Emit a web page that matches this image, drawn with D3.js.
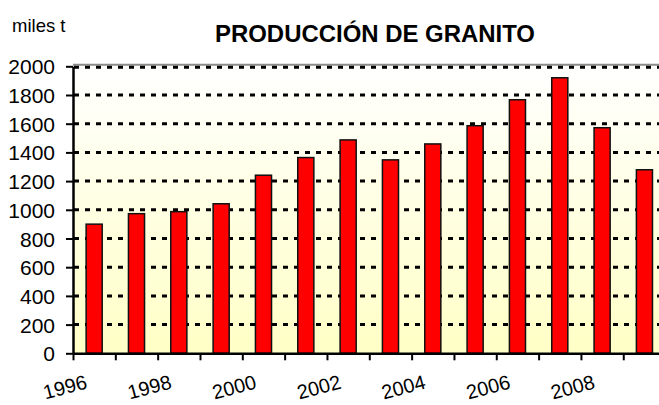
<!DOCTYPE html>
<html>
<head>
<meta charset="utf-8">
<script src="https://cdn.jsdelivr.net/npm/d3@7"></script>
<style>
  body { margin: 0; background: #fff; }
  text { font-family: "Liberation Sans", Arial, sans-serif; }
</style>
</head>
<body>
<div id="chart"></div>
<script>
const years = ["1996", "1997", "1998", "1999", "2000", "2001", "2002", "2003", "2004", "2005", "2006", "2007", "2008", "2009"];
const production = [900, 973, 987, 1042, 1241, 1364, 1487, 1348, 1459, 1586, 1767, 1920, 1572, 1279];
const yTicks = [0, 200, 400, 600, 800, 1000, 1200, 1400, 1600, 1800, 2000];
const xLabels = ["1996", "1998", "2000", "2002", "2004", "2006", "2008"];

const width = 659, height = 405;
const plotLeft = 73, plotRight = 665.6, plotTop = 66.3, plotBottom = 353.3;

var svg = d3.select("#chart")
    .append("svg")
    .attr("width", width)
    .attr("height", height);

var grad = svg.append("defs").append("linearGradient")
    .attr("id", "bg")
    .attr("x1", 0).attr("y1", 0).attr("x2", 0).attr("y2", 1);
grad.append("stop").attr("offset", "0%").attr("stop-color", "#ffffff");
grad.append("stop").attr("offset", "100%").attr("stop-color", "#ffffc6");

var x = d3.scaleBand()
    .domain(years)
    .range([plotLeft, plotRight])
    .paddingInner(0.62)
    .paddingOuter(0.31);

var xEdges = d3.scaleLinear()
    .domain([0, years.length])
    .range([plotLeft, plotRight]);

var y = d3.scaleLinear()
    .domain([0, 2000])
    .range([plotBottom, plotTop]);

// plot area background
svg.append("rect")
    .attr("x", plotLeft)
    .attr("y", y(2000) - 1)
    .attr("width", plotRight - plotLeft)
    .attr("height", plotBottom - y(2000) + 1)
    .style("fill", "url(#bg)");

// top border
svg.append("line")
    .attr("x1", plotLeft).attr("x2", plotRight)
    .attr("y1", y(2000) - 1.5).attr("y2", y(2000) - 1.5)
    .style("stroke", "#8c8c8c")
    .style("stroke-width", 2);

// dashed gridlines
svg.append("g")
    .selectAll("line")
    .data(yTicks.filter(d => d > 0))
    .enter()
    .append("line")
    .attr("x1", plotLeft + 1)
    .attr("x2", plotRight)
    .attr("y1", d => y(d) + (d == 2000 ? 1 : 0))
    .attr("y2", d => y(d) + (d == 2000 ? 1 : 0))
    .style("stroke", "#000")
    .style("stroke-width", 3)
    .style("stroke-dasharray", "5,6");

// bars
svg.append("g")
    .selectAll("rect")
    .data(production)
    .enter()
    .append("rect")
    .attr("x", (d, i) => x(years[i]))
    .attr("y", d => y(d))
    .attr("width", x.bandwidth())
    .attr("height", d => plotBottom - y(d))
    .style("fill", "#ff0000")
    .style("stroke", "#111")
    .style("stroke-width", 1.5);

// y axis
var yaxis = svg.append("g")
    .attr("transform", `translate(${plotLeft}, 0)`)
    .call(d3.axisLeft(y).tickValues(yTicks).tickFormat(d3.format("d"))
        .tickSize(7).tickPadding(11).tickSizeOuter(0))
    .style("font-size", "21px");
yaxis.selectAll("line").style("stroke", "#000").style("stroke-width", 2);
yaxis.select(".domain").style("stroke", "#000").style("stroke-width", 2.5);
yaxis.selectAll("text").style("fill", "#000").attr("dy", "0.36em");

// x axis (ticks at category edges)
var xaxis = svg.append("g")
    .attr("transform", `translate(0, ${plotBottom})`)
    .call(d3.axisBottom(xEdges).tickValues(d3.range(0, years.length)).tickSize(7).tickFormat("").tickSizeOuter(0));
xaxis.selectAll("line").style("stroke", "#000").style("stroke-width", 2);
xaxis.select(".domain").style("stroke", "#000").style("stroke-width", 2.5);

// rotated year labels
svg.append("g")
    .selectAll("text")
    .data(xLabels)
    .enter()
    .append("text")
    .attr("transform", d => `translate(${x(d) + x.bandwidth() / 2 - 6}, 388) rotate(-15)`)
    .style("text-anchor", "end")
    .style("font-size", "20px")
    .style("fill", "#000")
    .text(d => d);

svg.append("text")
    .attr("x", 12)
    .attr("y", 31.5)
    .style("font-size", "18.5px")
    .style("fill", "#000")
    .text("miles t");

svg.append("text")
    .attr("x", 215)
    .attr("y", 42.3)
    .attr("textLength", 320)
    .attr("lengthAdjust", "spacingAndGlyphs")
    .style("font-size", "23px")
    .style("font-weight", "bold")
    .style("fill", "#000")
    .text("PRODUCCIÓN DE GRANITO");
</script>
</body>
</html>
